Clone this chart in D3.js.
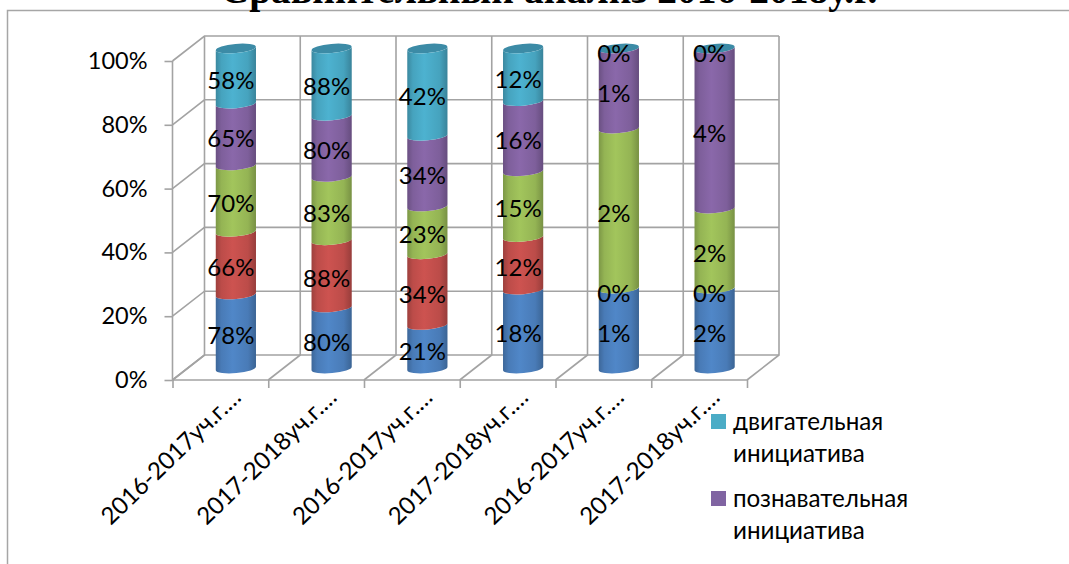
<!DOCTYPE html>
<html lang="ru">
<head>
    <meta charset="UTF-8">
    <title>Сравнительный анализ 2016-2018у.г.</title>
    <script src="https://d3js.org/d3.v7.min.js"></script>
    <style>
        html, body { margin: 0; padding: 0; background: #fff; overflow: hidden; }
        svg { display: block; font-family: Lato, "Open Sans", sans-serif; fill: #000; }
    </style>
</head>
<body>
    <svg></svg>
    <script>
        const categories = ["2016-2017уч.г.…", "2017-2018уч.г.…", "2016-2017уч.г.…", "2017-2018уч.г.…", "2016-2017уч.г.…", "2017-2018уч.г.…"];
        // нижние три ряда: подписи легенды обрезаны на картинке
        const blueValues = [78, 80, 21, 18, 1, 2];
        const redValues = [66, 88, 34, 12, 0, 0];
        const greenValues = [70, 83, 23, 15, 2, 2];
        const purpleValues = [65, 80, 34, 16, 1, 4];
        const tealValues = [58, 88, 42, 12, 0, 0];
        const seriesValues = [blueValues, redValues, greenValues, purpleValues, tealValues];
        const seriesColors = ["#5087c8", "#cd5350", "#a2c55c", "#8a68aa", "#4db2d0"];
        const yTicks = [0, 0.2, 0.4, 0.6, 0.8, 1];
        const legendNames = [["двигательная", "инициатива"], ["познавательная", "инициатива"]];
        const legendColors = ["#4bacc6", "#8064a2"];

        const width = 1069, height = 564;
        const depthX = 32, depthY = -25;
        const gridColor = "#a3a3a3";

        const svg = d3.select("svg").attr("width", width).attr("height", height);

        const x = d3.scaleBand().domain(d3.range(categories.length)).range([172.5, 747]).paddingInner(0).paddingOuter(0);
        const yFront = d3.scaleLinear().domain([0, 1]).range([380, 61]);
        const yBar = d3.scaleLinear().domain([0, 1]).range([368.5, 48.5]);

        // градиенты цилиндров
        const defs = svg.append("defs");
        seriesColors.forEach((c, i) => {
            const g = defs.append("linearGradient").attr("id", "grad" + i);
            const base = d3.color(c);
            g.append("stop").attr("offset", "0%").attr("stop-color", base.darker(0.75));
            g.append("stop").attr("offset", "14%").attr("stop-color", base.darker(0.25));
            g.append("stop").attr("offset", "42%").attr("stop-color", base);
            g.append("stop").attr("offset", "80%").attr("stop-color", base.darker(0.25));
            g.append("stop").attr("offset", "100%").attr("stop-color", base.darker(0.85));
        });

        // рамка диаграммы
        svg.append("path")
            .attr("d", `M7.5,${height}V10.5H${width}`)
            .attr("fill", "none").attr("stroke", "#a6a6a6").attr("stroke-width", 1.5);

        // заголовок обрезан сверху
        svg.append("text")
            .attr("x", 549).attr("y", 3)
            .attr("text-anchor", "middle")
            .attr("font-family", "'Liberation Serif', serif")
            .attr("font-weight", "bold")
            .attr("font-size", 39.5)
            .text("Сравнительный анализ 2016-2018у.г.");

        // сетка: стены и пол
        const grid = svg.append("g").attr("fill", "none").attr("stroke", gridColor).attr("stroke-width", 1.6);
        const xEdges = d3.range(categories.length).map(d => x(d)).concat(x.range()[1]);

        yTicks.forEach(t => {
            const y0 = yFront(t);
            grid.append("path").attr("d", d3.line()([[x.range()[0], y0], [x.range()[0] + depthX, y0 + depthY], [x.range()[1] + depthX, y0 + depthY]]));
        });
        xEdges.forEach(e => {
            grid.append("path").attr("d", d3.line()([[e, yFront(0)], [e + depthX, yFront(0) + depthY], [e + depthX, yFront(1) + depthY]]));
        });
        grid.append("path").attr("d", d3.line()([[x.range()[0], yFront(1)], [x.range()[0], yFront(0)], [x.range()[1], yFront(0)]]));

        // оси
        const yAxis = svg.append("g")
            .attr("transform", `translate(${x.range()[0]},0)`)
            .call(d3.axisLeft(yFront).tickValues(yTicks).tickFormat(d3.format(".0%")).tickSize(8).tickPadding(17));
        yAxis.select(".domain").remove();
        yAxis.selectAll("line").attr("stroke", gridColor).attr("stroke-width", 1.6);
        yAxis.selectAll("text").attr("font-family", "Lato, sans-serif").attr("font-size", 23.5).attr("fill", "#000");

        const xAxis = svg.append("g")
            .attr("transform", `translate(0,${yFront(0)})`)
            .call(d3.axisBottom(d3.scaleLinear().domain(x.range()).range(x.range())).tickValues(xEdges).tickFormat("").tickSize(8));
        xAxis.select(".domain").remove();
        xAxis.selectAll("line").attr("stroke", gridColor).attr("stroke-width", 1.6);

        svg.append("g").selectAll("text").data(categories).join("text")
            .attr("transform", (d, i) => `translate(${x(i) + x.bandwidth() / 2 + 22},${yFront(0) + 19}) rotate(-44)`)
            .attr("text-anchor", "end")
            .attr("font-size", 24)
            .text(d => d);

        // столбцы: стек 100%
        const stackData = categories.map((c, i) => {
            const row = { index: i };
            seriesValues.forEach((s, k) => { row[k] = s[i]; });
            return row;
        });
        const stacked = d3.stack().keys(d3.range(seriesValues.length)).offset(d3.stackOffsetExpand)(stackData);

        const barWidth = x.bandwidth() * 0.42;
        const ry = 4.6, tilt = 1.8;
        const barCx = i => x(i) + x.bandwidth() / 2 + depthX / 2 - 0.5;

        function segmentPath(i, v0, v1) {
            const l = barCx(i) - barWidth / 2, r = barCx(i) + barWidth / 2;
            const rx = barWidth / 2;
            const y0 = yBar(v0), y1 = yBar(v1);
            return `M${l},${y0 + tilt}A${rx},${ry} -5 0 0 ${r},${y0 - tilt}` +
                `L${r},${y1 - tilt}A${rx},${ry} -5 0 1 ${l},${y1 + tilt}Z`;
        }

        const bars = svg.append("g");
        // верхняя крышка
        bars.selectAll("ellipse").data(categories).join("ellipse")
            .attr("transform", (d, i) => `translate(${barCx(i)},${yBar(1)}) rotate(-5)`)
            .attr("rx", barWidth / 2).attr("ry", ry)
            .attr("fill", "#3c8ba6");

        stacked.forEach((layer, k) => {
            bars.append("g").selectAll("path").data(layer).join("path")
                .attr("d", (d, i) => segmentPath(i, d[0], d[1]))
                .attr("fill", `url(#grad${k})`);
        });

        // подписи данных
        const labels = svg.append("g").attr("font-size", 24).attr("text-anchor", "middle");
        stacked.forEach((layer, k) => {
            labels.append("g").selectAll("text").data(layer).join("text")
                .attr("x", (d, i) => barCx(i) - 5)
                .attr("y", d => yBar((d[0] + d[1]) / 2) + 13)
                .text((d, i) => seriesValues[k][i] + "%");
        });

        // легенда: видны только две записи
        const legend = svg.append("g").selectAll("g").data(legendNames).join("g")
            .attr("transform", (d, i) => `translate(711,${414 + i * 77})`);
        legend.append("rect").attr("width", 15).attr("height", 15).attr("fill", (d, i) => legendColors[i]);
        legend.selectAll("text").data(d => d).join("text")
            .attr("x", 22).attr("y", (d, i) => 15.5 + i * 32)
            .attr("font-size", 24.2)
            .text(d => d);
    </script>
</body>
</html>
